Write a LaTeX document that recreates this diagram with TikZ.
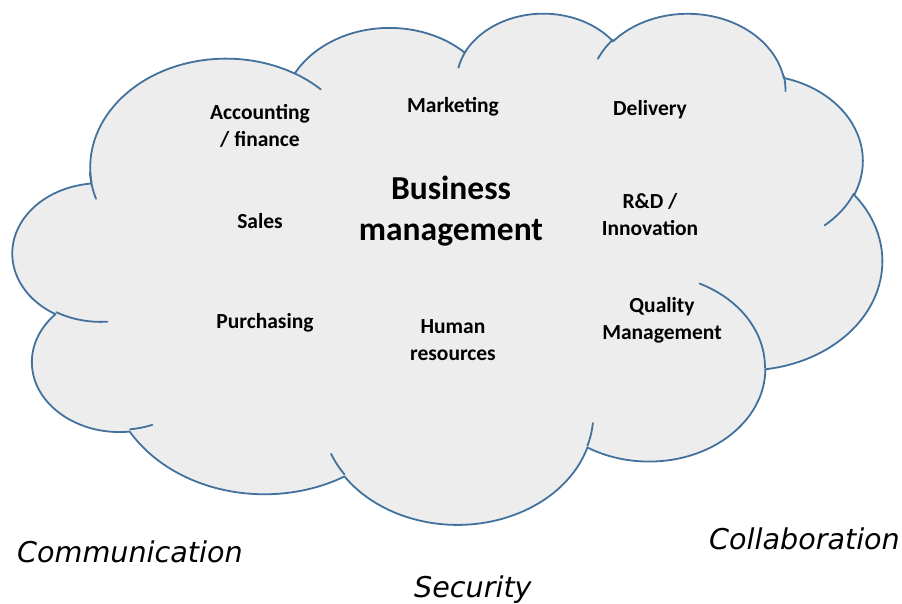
\documentclass[tikz,border=0pt]{standalone}
\usepackage{fontspec}
\setmainfont{Carlito}
\newfontfamily\itfont{DejaVu Sans}
\definecolor{cloudblue}{RGB}{65,113,156}
\definecolor{cloudfill}{RGB}{237,237,237}
\newcommand\carc[4]{arc[start angle={-vt(#3,#1,#2)}, end angle={-vt(#3+#4,#1,#2)}, x radius={#1*20.116pt}, y radius={#2*11.829pt}]}
\tikzset{
  cloudline/.style={draw=cloudblue, line width=1.8pt, line join=round, line cap=round},
  lab/.style={inner sep=0pt, font={\fontsize{21.5}{27}\selectfont\bfseries}},
  lab2/.style={lab, align=center},
  big/.style={inner sep=0pt, align=center, font={\fontsize{33.5}{41}\selectfont\bfseries}},
  outer/.style={inner sep=0pt, anchor=base west, font={\fontsize{28.6}{34}\selectfont\itfont\itshape}}
}
\begin{document}
\begin{tikzpicture}[x=1pt,y=-1pt,
  declare function={vt(\myth,\mywr,\myhr)=\myth+asin(sin(atan2(\mywr*sin(\myth),\myhr*cos(\myth))-\myth));}]
\useasboundingbox (0,0) rectangle (902,603);
% cloud outline
\path[cloudline, fill=cloudfill] ({13+39.00*2.0116},{12+143.70*1.1829})
  \carc{6.753}{9.190}{-190.4875}{123.7805}
  \carc{5.333}{7.267}{-144.1024}{89.9452}
  \carc{4.365}{5.945}{-145.8079}{99.7230}
  \carc{4.857}{6.595}{-130.9861}{117.2417}
  \carc{5.333}{7.273}{-78.7089}{109.0269}
  \carc{6.775}{9.220}{-46.2673}{130.2690}
  \carc{5.785}{7.867}{0.6250}{114.0333}
  \carc{6.752}{9.215}{22.4516}{115.1726}
  \carc{7.720}{10.543}{66.2426}{75.7110}
  \carc{4.360}{5.918}{-274.9421}{146.7356}
  \carc{4.345}{5.945}{-246.8285}{152.5189}
  -- cycle;
% inner arcs of the cloud
\path[cloudline]
  ({13+46.93*2.0116},{12+261.77*1.1829}) \carc{4.345}{5.945}{86.7420}{26.4295}
  ({13+69.28*2.0116},{12+348.99*1.1829}) \carc{4.360}{5.918}{73.6105}{11.4475}
  ({13+164.78*2.0116},{12+390.90*1.1829}) \carc{6.752}{9.215}{137.6242}{14.0811}
  ({13+288.27*2.0116},{12+347.51*1.1829}) \carc{6.752}{9.215}{6.4533}{15.9984}
  ({13+341.29*2.0116},{12+229.54*1.1829}) \carc{5.785}{7.867}{-70.2924}{70.9174}
  ({13+417.98*2.0116},{12+153.54*1.1829}) \carc{5.333}{7.273}{30.3180}{27.7515}
  ({13+383.24*2.0116},{12+54.26*1.1829}) \carc{4.857}{6.595}{-13.7443}{14.8589}
  ({13+290.78*2.0116},{12+39.52*1.1829}) \carc{4.857}{6.595}{-149.1815}{18.1954}
  ({13+221.41*2.0116},{12+47.20*1.1829}) \carc{4.365}{5.945}{-163.4943}{17.6864}
  ({13+140.00*2.0116},{12+51.92*1.1829}) \carc{6.753}{9.190}{-66.7070}{12.3194}
  ({13+41.27*2.0116},{12+157.89*1.1829}) \carc{6.753}{9.190}{156.6244}{18.6556};
% labels
\node[lab2] (acc) at (260,127.1) {\strut Accounting\\\strut / finance};
\node[lab, anchor=base] (mkt) at (453,112) {Marketing};
\node[lab, anchor=base] (del) at (650,115) {Delivery};
\node[lab, anchor=base] (sal) at (260,228) {Sales};
\node[big] (bm) at (451,211.3) {\strut Business\\\strut management};
\node[lab2] (rd) at (650,216.1) {\strut R\&D /\\\strut Innovation};
\node[lab, anchor=base] (pur) at (265,328) {Purchasing};
\node[lab2] (hr) at (453,341.1) {\strut Human\\\strut resources};
\node[lab2] (qm) at (662,320.1) {\strut Quality\\\strut Management};
\node[outer] (com) at (17,562) {Communication};
\node[outer] (sec) at (414,597) {Security};
\node[outer] (col) at (709,549) {Collaboration};
\end{tikzpicture}
\end{document}
